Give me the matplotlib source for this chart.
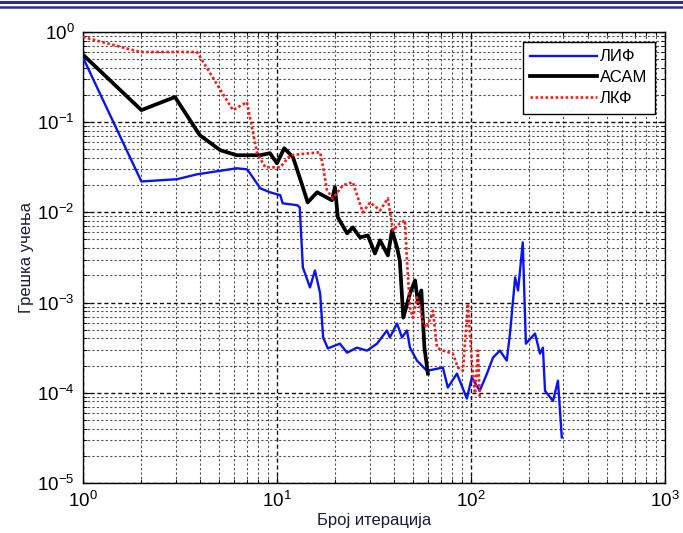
import matplotlib
matplotlib.use("Agg")
import matplotlib.pyplot as plt
from matplotlib.lines import Line2D
from matplotlib.ticker import LogLocator, NullFormatter

plt.rcParams['font.family'] = ['Liberation Sans', 'DejaVu Sans']
plt.rcParams['mathtext.fontset'] = 'custom'
plt.rcParams['mathtext.rm'] = 'Liberation Sans'

# ЛИФ (blue)
lif_x = [1, 2.0, 3.05, 3.87, 6.2, 7.0, 7.26, 8.2, 9.2, 10.4, 10.7, 12.7, 13.1, 13.6, 14.8,
         15.7, 16.7, 17.3, 18.3, 21.1, 23, 25.8, 29.1, 32.8, 36.9, 38.2, 41.6, 44.1, 46.8,
         48.5, 52.7, 59.3, 71.7, 76, 84.7, 95.3, 101, 111, 121, 130, 141, 153, 159, 169,
         175, 185, 192, 214, 227, 235, 241, 265, 281, 294]
lif_y = [0.52, 0.022, 0.0233, 0.0264, 0.0308, 0.030, 0.0271, 0.0185, 0.0167, 0.0155, 0.0126,
         0.012, 0.0114, 0.00245, 0.00147, 0.00227, 0.00126, 0.00041, 0.00031, 0.00035,
         0.000278, 0.000316, 0.000293, 0.00035, 0.00049, 0.00041, 0.000585, 0.00041,
         0.00049, 0.000316, 0.000227, 0.000175, 0.00019, 0.000114, 0.000163, 8.6e-5,
         0.000147, 0.000105, 0.000163, 0.000245, 0.000293, 0.000227, 0.000453, 0.0019,
         0.00136, 0.00464, 0.00035, 0.000453, 0.000271, 0.000316, 0.000105, 8.1e-5,
         0.000136, 3.2e-5]

# АСАМ (black)
asam_x = [1, 2.0, 2.98, 4.0, 5.1, 6.2, 8.2, 9.2, 10, 10.9, 12.1, 13.6, 14.4, 16.1, 19.2,
          19.9, 20.6, 23, 24.6, 26.8, 29.4, 32, 34, 37.3, 39.2, 41.6, 43, 44.8, 48.5, 51.5,
          53.4, 55.5, 57.6, 60]
asam_y = [0.56, 0.136, 0.19, 0.0717, 0.0489, 0.043, 0.043, 0.0453, 0.035, 0.0514, 0.0408,
          0.019, 0.0129, 0.0167, 0.0136, 0.019, 0.0088, 0.00585, 0.0068, 0.00527, 0.00555,
          0.0035, 0.00489, 0.00333, 0.0063, 0.00408, 0.0029, 0.00068, 0.00126, 0.00176,
          0.00098, 0.00136, 0.000314, 0.000163]

# ЛКФ (red dotted)
lkf_x = [1, 1.97, 3.87, 5.93, 7.0, 7.9, 8.7, 10.4, 11.7, 16.7, 17.3, 18.1, 19.4, 21.9, 24.6,
         27.7, 30.2, 34, 37.3, 39.6, 43, 45.7, 46.8, 48.5, 50.2, 52.7, 54.6, 56.6, 59.3,
         63.7, 66.8, 71.7, 80.7, 85.7, 90.9, 96.5, 101, 105, 108.7, 111]
lkf_y = [0.88, 0.6, 0.6, 0.136, 0.167, 0.0453, 0.0316, 0.0316, 0.043, 0.0464, 0.0316, 0.0176,
         0.0143, 0.02, 0.0216, 0.01, 0.0129, 0.0105, 0.0143, 0.0063, 0.00755, 0.00815,
         0.00293, 0.00088, 0.00068, 0.00114, 0.00088, 0.000585, 0.000527, 0.00081, 0.000316,
         0.000293, 0.000271, 0.00019, 0.000175, 0.000975, 0.000227, 9.8e-5, 0.000293, 8.8e-5]

labels = ['ЛИФ', 'АСАМ', 'ЛКФ']
xlabel = 'Број итерација'
ylabel = 'Грешка учења'

fig = plt.figure(figsize=(6.83, 5.33), dpi=100)
ax = fig.add_axes([0.1215, 0.094, 0.852, 0.846])

ax.plot(lif_x, lif_y, color='#0a14f0', lw=1.7, label=labels[0], zorder=3)
ax.plot(asam_x, asam_y, color='black', lw=2.7, label=labels[1], zorder=4)
ax.plot(lkf_x, lkf_y, color='#ff1a1a', lw=1.9, ls=(0, (1.0, 0.9)), label=labels[2], zorder=5)

ax.set_xscale('log')
ax.set_yscale('log')
ax.set_xlim(1, 1000)
ax.set_ylim(1e-5, 1)
ax.xaxis.set_major_locator(LogLocator(base=10, numticks=10))
ax.yaxis.set_major_locator(LogLocator(base=10, numticks=10))
ax.xaxis.set_minor_locator(LogLocator(base=10, subs=range(2, 10), numticks=20))
ax.yaxis.set_minor_locator(LogLocator(base=10, subs=range(2, 10), numticks=20))
ax.xaxis.set_minor_formatter(NullFormatter())
ax.yaxis.set_minor_formatter(NullFormatter())

ax.grid(True, which='major', color='#111111', ls=(0, (3, 2)), lw=1.0)
ax.grid(True, which='minor', color='#333333', ls=(0, (2, 2)), lw=0.8, alpha=0.85)
ax.set_axisbelow(True)

ax.tick_params(which='both', direction='in', top=True, right=True)
ax.tick_params(which='major', length=5, labelsize=13.5, pad=6)
ax.tick_params(which='minor', length=3)
for s in ax.spines.values():
    s.set_linewidth(1.0)

ax.set_xlabel(xlabel, fontsize=12, color='#1a1a3a', labelpad=1)
ax.set_ylabel(ylabel, fontsize=12, color='#1a1a3a', labelpad=2)

leg = ax.legend(loc='upper right', fontsize=12, handlelength=4.0, handletextpad=0.2,
                borderpad=0.45, labelspacing=0.35, fancybox=False, framealpha=1,
                edgecolor='black', borderaxespad=0.6)
leg.get_frame().set_linewidth(1.0)

# decorative double rule at the top of the figure
fig.add_artist(Line2D([0, 1], [1 - 1.5 / 533, 1 - 1.5 / 533], transform=fig.transFigure,
                      color='#2b2f8a', lw=2.2))
fig.add_artist(Line2D([0, 1], [1 - 7.0 / 533, 1 - 7.0 / 533], transform=fig.transFigure,
                      color='#2b2f8a', lw=1.8))

fig.savefig('out.png', dpi=100)
